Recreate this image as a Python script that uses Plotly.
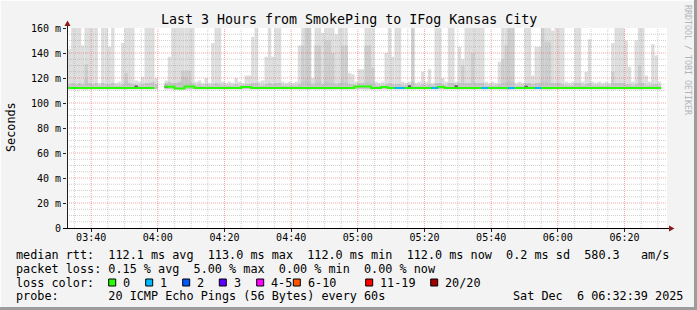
import pandas as pd
import plotly.graph_objects as go

# ---------------- data ----------------
title_text = "Last 3 Hours from SmokePing to IFog Kansas City"
step_start = "2025-12-06 03:33:00"
range_start = "2025-12-06 03:32:45"
range_end = "2025-12-06 06:32:45"
F = 175  # smoke reaching beyond the top of the graph

# upper edge of the outer (light) smoke for each 1-minute step
smoke_hi = [
    143, F, F, F, 146, F, F, F, F, 116,
    F, F, 145, F, 116, 117, 148, F, F, F,
    118, 117, 121, F, F, F, 120, None, None, 118,
    137, F, F, F, F, F, F, F, 117, 118,
    116, 120, 116, 148, F, F, 117, 116, 117, 116,
    120, 117, 116, 122, 122, 153, F, 117, 118, 137,
    F, 137, F, F, 117, 116, 117, 116, 117, 146,
    F, F, F, 120, F, F, 156, F, F, F,
    155, F, F, F, 124, 123, 117, 127, 127, F,
    F, F, 117, 116, 117, 140, F, 137, F, F,
    117, 116, 117, F, 116, 117, 125, 117, 127, 116,
    F, F, 120, 117, F, F, 117, 145, 135, F,
    F, F, F, F, F, 117, 116, 117, 116, 133,
    F, F, F, F, 116, 117, 116, F, F, 122,
    145, 145, F, F, F, 158, F, F, F, 117,
    116, 117, F, F, 117, 125, 151, 117, 116, 117,
    116, 117, 116, 148, F, F, F, 150, 129, 117,
    150, F, F, 122, 117, 147, 138, 117,
]

# denser (medium) smoke layer
mid_idx = [5, 17, 34, 35, 36, 70, 71, 72, 74, 75, 77, 78, 79, 82, 83,
           89, 90, 91, 103, 118, 121, 130, 131, 132, 133, 142, 143, 144, 163, 171]
mid_top = [131, 124, 126, 126, 126, 146, F, F, 146, 146, 150, 150, 140, 146, 146,
           146, 146, 128, F, 130, 140, 135, 146, F, F, F, 149, 149, 125, 130]

# densest smoke right above the median
core_top = [
    115, 116, 115, 116, 115, 119, 116, 115, 116, 114,
    116, 115, 115, 116, 114, 114, 115, 118, 116, 115,
    114, 114, 115, 116, 116, 117, 115, None, None, 116,
    117, 116, 116, 117, 121, 120, 118, 116, 114, 115,
    114, 115, 114, 115, 116, 115, 114, 114, 114, 114,
    115, 114, 114, 115, 115, 116, 116, 114, 114, 115,
    116, 115, 116, 116, 114, 114, 114, 114, 114, 115,
    117, 118, 117, 115, 116, 117, 115, 117, 116, 116,
    115, 116, 117, 116, 115, 115, 114, 116, 116, 117,
    117, 116, 114, 114, 114, 115, 116, 115, 115, 115,
    114, 114, 114, 117, 114, 114, 115, 114, 115, 114,
    116, 116, 115, 114, 116, 116, 114, 116, 116, 116,
    116, 117, 116, 116, 116, 114, 114, 114, 114, 115,
    116, 117, 118, 117, 114, 114, 114, 116, 116, 115,
    116, 116, 117, 117, 116, 116, 116, 116, 115, 114,
    114, 114, 116, 116, 114, 115, 116, 114, 114, 114,
    114, 114, 114, 116, 116, 116, 116, 115, 115, 114,
    115, 116, 116, 114, 114, 115, 115, 114,
]

dark_idx = [20, 29, 102, 116, 137]
dark_top = [114.0, 113.8, 114.2, 114.2, 113.8]

median = [
    112, 112, 112, 112, 112, 112, 112, 112, 112, 112,
    112, 112, 112, 112, 112, 112, 112, 112, 112, 112,
    112, 112, 112, 112, 112, 112, 112, None, None, 113,
    113, 113, 111.7, 111.7, 111.7, 113.2, 113.2, 113.2, 112, 112,
    112, 112, 112, 112, 112, 112, 112, 112, 112, 112,
    112, 112, 112.8, 112.8, 112.8, 112, 112, 112, 112, 112,
    112, 112, 112, 112, 112, 112, 112, 112, 112, 112,
    112, 112, 112, 112, 112, 112, 112, 112, 112, 112,
    112, 112, 112, 112, 112, 112, 113.3, 113.3, 113.3, 113.3,
    113.3, 112, 112, 112, 112.8, 112.8, 112, 112, 112, 112,
    112, 112, 112, 112, 112, 112, 112, 112, 112, 112,
    112, 112.8, 112.8, 112, 112, 112, 112, 112, 112, 112,
    112, 112, 112, 112, 112, 112, 112, 112, 112, 112,
    112, 112, 112, 112, 112, 112, 112, 112, 112, 112,
    112, 112, 112, 112, 112, 112, 112, 112, 112, 112,
    112, 112, 112, 112, 112, 112, 112, 112, 112, 112,
    112, 112, 112, 112, 112, 112, 112, 112, 112, 112,
    112, 112, 112, 112, 112, 112, 112, 112,
]

loss1_idx = [98, 99, 100, 109, 110, 124, 125, 132, 133, 140, 141]

y_tickvals = [0, 20, 40, 60, 80, 100, 120, 140, 160]
y_ticktext = ["0", "20 m", "40 m", "60 m", "80 m", "100 m", "120 m", "140 m", "160 m"]
x_tickvals = ["2025-12-06 03:40", "2025-12-06 04:00", "2025-12-06 04:20", "2025-12-06 04:40",
              "2025-12-06 05:00", "2025-12-06 05:20", "2025-12-06 05:40", "2025-12-06 06:00",
              "2025-12-06 06:20"]
x_ticktext = ["03:40", "04:00", "04:20", "04:40", "05:00", "05:20", "05:40", "06:00", "06:20"]

rtt_stats = ["112.1 ms avg", "113.0 ms max", "112.0 ms min", "112.0 ms now", "0.2 ms sd", "580.3   am/s"]
loss_stats = ["0.15 % avg", "5.00 % max", "0.00 % min", "0.00 % now"]
loss_labels = ["0", "1", "2", "3", "4-5", "6-10", "11-19", "20/20"]
loss_colors = ["#26ff00", "#00b8ff", "#0059ff", "#5e00ff", "#ff00ff", "#ff5500", "#ff0000", "#a10000"]
probe_text = "20 ICMP Echo Pings (56 Bytes) every 60s"
stamp_text = "Sat Dec  6 06:32:39 2025"

# ---------------- figure ----------------
W, H = 697, 310
L, R, T, B = 67, 30, 28, 82
PW, PH = W - L - R, H - T - B
FONT = "DejaVu Sans Mono"
BASE = 111

def px(x):
    return (x - L) / PW

def py(y):
    return (T + PH - y) / PH

def nb(s):
    return s.replace(" ", "\u00a0")

times = pd.date_range(step_start, periods=len(smoke_hi), freq="60s")
centers = times + pd.Timedelta(seconds=30)
ends = times + pd.Timedelta(seconds=60)

fig = go.Figure()

def smoke(xs, tops, color):
    fig.add_trace(go.Bar(
        x=list(xs), y=[None if t is None else t - BASE for t in tops], base=BASE,
        width=60000, marker=dict(color=color, line=dict(width=0)),
        hoverinfo="skip", showlegend=False))

smoke(centers, smoke_hi, "#dddddd")
smoke([centers[i] for i in mid_idx], mid_top, "#cdcdcd")
smoke(centers, core_top, "#c6c6c6")
fig.add_trace(go.Bar(
    x=[centers[i] for i in dark_idx], y=[t - 112.6 for t in dark_top], base=112.6,
    width=60000, marker=dict(color="#5a5a5a", line=dict(width=0)),
    hoverinfo="skip", showlegend=False))

# grid (drawn over the smoke, like rrdtool)
t0, t1 = pd.Timestamp(range_start), pd.Timestamp(range_end)
gx_minor, gy_minor, gx_major, gy_major = [], [], [], []
for v in range(5, 160, 5):
    xs, ys = (gx_major, gy_major) if v % 20 == 0 else (gx_minor, gy_minor)
    xs += [t0, t1, None]
    ys += [v, v, None]
for t in pd.date_range("2025-12-06 03:35", "2025-12-06 06:30", freq="5min"):
    xs, ys = (gx_major, gy_major) if t.minute % 20 == 0 else (gx_minor, gy_minor)
    xs += [t, t, None]
    ys += [0, 160, None]
fig.add_trace(go.Scatter(x=gx_minor, y=gy_minor, mode="lines",
                         line=dict(color="rgba(150,150,150,0.45)", width=1, dash="1px,1px"),
                         hoverinfo="skip", showlegend=False))
fig.add_trace(go.Scatter(x=gx_major, y=gy_major, mode="lines",
                         line=dict(color="rgba(235,60,60,0.45)", width=1, dash="1px,1px"),
                         hoverinfo="skip", showlegend=False))

# median line coloured by loss
fig.add_trace(go.Scatter(
    x=list(times) + [ends[-1]], y=median + [median[-1]], mode="lines",
    line=dict(color=loss_colors[0], width=2, shape="hv"),
    hoverinfo="skip", showlegend=False))
sx, sy = [], []
for i in loss1_idx:
    sx += [times[i], ends[i], None]
    sy += [median[i], median[i], None]
fig.add_trace(go.Scatter(x=sx, y=sy, mode="lines",
                         line=dict(color=loss_colors[1], width=2),
                         hoverinfo="skip", showlegend=False))

shapes = []
# frame shading
shapes.append(dict(type="line", xref="paper", yref="paper", x0=px(0), x1=px(W), y0=py(0.5), y1=py(0.5),
                   line=dict(color="#fcfcfc", width=1)))
shapes.append(dict(type="line", xref="paper", yref="paper", x0=px(0.5), x1=px(0.5), y0=py(0), y1=py(H),
                   line=dict(color="#fcfcfc", width=1)))
shapes.append(dict(type="line", xref="paper", yref="paper", x0=px(0), x1=px(W), y0=py(H - 1.5), y1=py(H - 1.5),
                   line=dict(color="#9c9c9c", width=3)))
shapes.append(dict(type="line", xref="paper", yref="paper", x0=px(W - 1.5), x1=px(W - 1.5), y0=py(0), y1=py(H),
                   line=dict(color="#9c9c9c", width=3)))
# axes
shapes.append(dict(type="line", xref="paper", yref="paper", x0=px(67.5), x1=px(67.5), y0=py(228.5), y1=py(24),
                   line=dict(color="#202020", width=1)))
shapes.append(dict(type="line", xref="paper", yref="paper", x0=px(63), x1=px(670), y0=py(228.5), y1=py(228.5),
                   line=dict(color="#000000", width=1)))
# arrows
shapes.append(dict(type="path", xref="paper", yref="paper",
                   path=f"M {px(64.5)} {py(26)} L {px(70.5)} {py(26)} L {px(67.5)} {py(20.5)} Z",
                   fillcolor="#8b1a1a", line=dict(width=0)))
shapes.append(dict(type="path", xref="paper", yref="paper",
                   path=f"M {px(669)} {py(225.5)} L {px(669)} {py(231.5)} L {px(674.5)} {py(228.5)} Z",
                   fillcolor="#8b1a1a", line=dict(width=0)))

annotations = []

def text(x, y, s, size=11.8, anchor="left", color="#000000", angle=0, yanchor="middle"):
    annotations.append(dict(xref="paper", yref="paper", x=px(x), y=py(y), text=nb(s), showarrow=False,
                            xanchor=anchor, yanchor=yanchor, textangle=angle,
                            borderpad=0, borderwidth=0,
                            font=dict(family=FONT, size=size, color=color)))

text(348.5, 19, title_text, size=13.3, anchor="center")
text(11, 127, "Seconds", anchor="center", angle=-90)
text(688, 60, "RRDTOOL / TOBI OETIKER", size=8.3, anchor="center", color="#b4b4b4", angle=90)

row_y = [255, 268.5, 282.5, 296]
text(16, row_y[0], "median rtt:  " + "  ".join(rtt_stats))
text(16, row_y[1], "packet loss: " + "  ".join(loss_stats))
text(16, row_y[2], "loss color:")
text(16, row_y[3], "probe:       " + probe_text)
text(513, row_y[3], stamp_text)

box_px = [108.7, 145.7, 182.7, 219.3, 256.7, 293.3, 365.7, 430.7]
for bx, lab, col in zip(box_px, loss_labels, loss_colors):
    shapes.append(dict(type="rect", xref="paper", yref="paper", x0=px(bx), x1=px(bx + 7),
                       y0=py(279), y1=py(286), fillcolor=col, line=dict(color="#000000", width=1)))
    text(bx + 14.3, row_y[2], lab)

fig.update_layout(
    width=W, height=H, margin=dict(l=L, r=R, t=T, b=B, pad=0),
    paper_bgcolor="#f3f3f3", plot_bgcolor="#ffffff",
    barmode="overlay", showlegend=False,
    font=dict(family=FONT, size=10, color="#000000"),
    shapes=shapes, annotations=annotations,
    xaxis=dict(type="date", range=[range_start, range_end], showgrid=False, zeroline=False,
               showline=False, tickmode="array", tickvals=x_tickvals, ticktext=x_ticktext,
               ticks="outside", ticklen=3, tickcolor="#202020", tickfont=dict(family=FONT, size=10),
               ticklabelstandoff=-3, fixedrange=True),
    yaxis=dict(range=[0, 160], showgrid=False, zeroline=False, showline=False,
               tickmode="array", tickvals=y_tickvals, ticktext=y_ticktext,
               ticks="outside", ticklen=3, tickcolor="#202020", tickfont=dict(family=FONT, size=10),
               fixedrange=True),
)

fig.write_html("out.html")
